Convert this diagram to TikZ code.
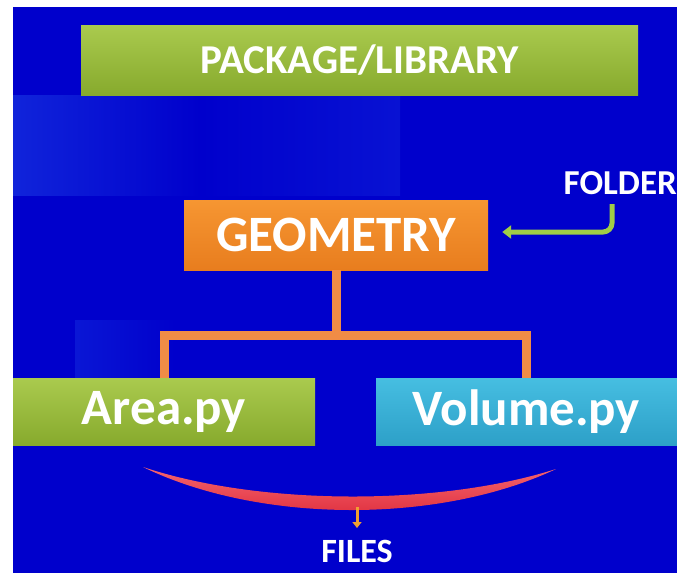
\documentclass[tikz,border=0pt]{standalone}
\usepackage{fontspec}
\setmainfont{Carlito}
\usetikzlibrary{arrows.meta,calc}
\definecolor{bgblue}{RGB}{0,0,204}
\definecolor{bglight}{RGB}{20,45,222}
\definecolor{grtop}{RGB}{170,202,78}
\definecolor{grbot}{RGB}{135,170,45}
\definecolor{ortop}{RGB}{246,150,50}
\definecolor{orbot}{RGB}{232,125,30}
\definecolor{cytop}{RGB}{70,190,225}
\definecolor{cybot}{RGB}{45,160,200}
\definecolor{conn}{RGB}{240,140,70}
\definecolor{arrgreen}{RGB}{160,205,70}
\definecolor{redtop}{RGB}{245,100,110}
\definecolor{redbot}{RGB}{220,40,55}
\definecolor{smallor}{RGB}{240,160,50}
\tikzset{
  boxnode/.style={rectangle, inner sep=0pt, text=white, font=\bfseries},
  greenbox/.style={boxnode, top color=grtop, bottom color=grbot},
  orangebox/.style={boxnode, top color=ortop, bottom color=orbot},
  cyanbox/.style={boxnode, top color=cytop, bottom color=cybot},
  label/.style={text=white, font=\bfseries, inner sep=0pt},
  tree/.style={draw=conn, line width=9pt},
  folderarrow/.style={draw=arrgreen, line width=5pt, rounded corners=9pt, -{Triangle[length=9pt,width=13pt]}},
  filearrow/.style={draw=smallor, line width=3pt, -{Triangle[length=6pt,width=9pt]}}
}
\begin{document}
\begin{tikzpicture}[x=1pt,y=-1pt]
\useasboundingbox (0,0) rectangle (677,573);
\fill[white] (0,0) rectangle (677,573);
\fill[bgblue] (13,7) rectangle (677,573);
% subtle background patches
\shade[left color=bglight!80!bgblue, right color=bgblue] (13,95) rectangle (200,195);
\shade[left color=bgblue, right color=bglight!40!bgblue] (200,95) rectangle (400,195);
\shade[left color=bgblue!50!bglight, right color=bgblue] (75,320) rectangle (175,378);

\node[greenbox, minimum width=557pt, minimum height=70pt, font=\bfseries\fontsize{41}{44}\selectfont] (pkg) at (359.5,60) {PACKAGE/LIBRARY};
\node[orangebox, minimum width=304pt, minimum height=70pt, font=\bfseries\fontsize{51}{54}\selectfont] (geo) at (336,235) {GEOMETRY};
\node[greenbox, minimum width=302pt, minimum height=67pt, font=\bfseries\fontsize{51}{54}\selectfont] (area) at (164,411.5) {Area.py};
\node[cyanbox, minimum width=301pt, minimum height=67pt, font=\bfseries\fontsize{51}{54}\selectfont] (vol) at (526.5,411.5) {Volume.py};
\node[label, font=\bfseries\fontsize{35}{38}\selectfont, anchor=east] (folder) at (677,183) {FOLDER};
\node[label, font=\bfseries\fontsize{34}{38}\selectfont] (files) at (357,551) {FILES};

% tree connectors
\coordinate (j) at ($(geo.south)+(0,65)$);
\draw[tree] (geo.south) -- (j);
\draw[tree] (j) -| (area.north);
\draw[tree] (j) -| (vol.north);

% folder arrow
\coordinate (fstart) at (612,204);
\draw[folderarrow] (fstart) |- ([xshift=14pt,yshift=3pt]geo.east);

% red crescent
\coordinate (cl) at (143,467);
\coordinate (cr) at (556,469);
\shade[top color=redtop, bottom color=redbot] (cl) .. controls (260,506) and (440,506) .. (cr)
  .. controls (440,524) and (260,524) .. (cl) -- cycle;
\coordinate (fa) at (357,507);
\coordinate (fb) at (357,528);
\draw[filearrow] (fa) -- (fb);
\end{tikzpicture}
\end{document}
